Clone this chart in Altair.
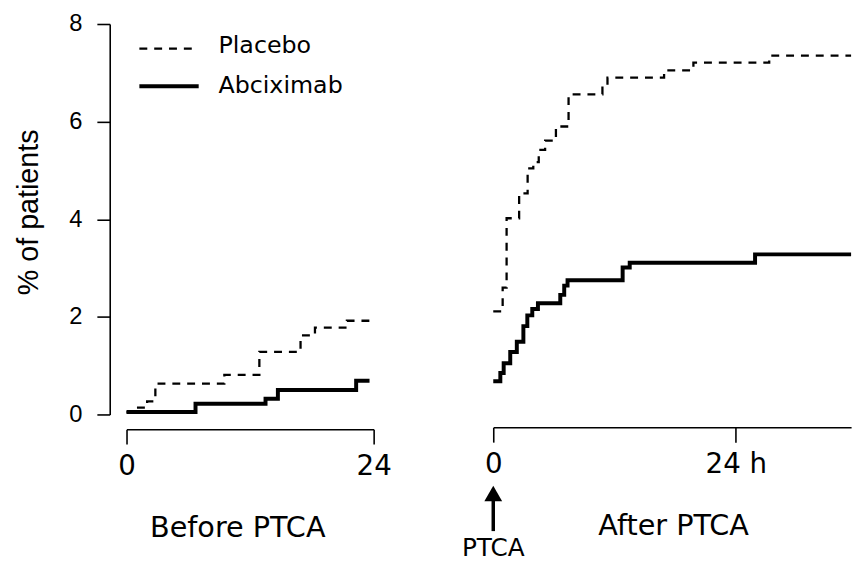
import altair as alt
import pandas as pd

# ---- data (hours, % of patients) ----
groups = ["Placebo", "Abciximab"]

before_placebo_h = [0, 1.0, 2.0, 2.8, 9.5, 12.9, 16.9, 18.3, 21.4, 23.6]
before_placebo_pct = [0.05, 0.14, 0.27, 0.63, 0.81, 1.28, 1.62, 1.78, 1.92, 1.92]
before_abcix_h = [0, 6.7, 13.5, 14.7, 22.3, 23.6]
before_abcix_pct = [0.05, 0.22, 0.32, 0.50, 0.69, 0.69]

after_placebo_h = [0, 0.93, 1.32, 2.56, 3.4, 3.96, 4.5, 5.13, 6.2, 7.45, 10.8, 11.3, 16.9, 19.8, 27.3, 35.4]
after_placebo_pct = [2.11, 2.60, 4.02, 4.53, 5.04, 5.17, 5.42, 5.61, 5.90, 6.56, 6.72, 6.90, 7.05, 7.21, 7.35, 7.35]
after_abcix_h = [0, 0.7, 1.03, 1.68, 2.33, 2.98, 3.37, 3.86, 4.42, 6.63, 7.02, 7.35, 12.8, 13.5, 25.9, 35.4]
after_abcix_pct = [0.68, 0.85, 1.05, 1.28, 1.49, 1.81, 2.03, 2.16, 2.28, 2.45, 2.64, 2.75, 3.01, 3.11, 3.28, 3.28]

y_ticks = [0, 2, 4, 6, 8]
before_ticks = [0, 24]
after_ticks = [0, 24]
before_title = "Before PTCA"
after_title = "After PTCA"
y_title = "% of patients"
arrow_label = "PTCA"


def frame(h_p, v_p, h_a, v_a):
    return pd.DataFrame({
        "hours": h_p + h_a,
        "pct": v_p + v_a,
        "group": [groups[0]] * len(h_p) + [groups[1]] * len(h_a),
    })


before_df = frame(before_placebo_h, before_placebo_pct, before_abcix_h, before_abcix_pct)
after_df = frame(after_placebo_h, after_placebo_pct, after_abcix_h, after_abcix_pct)

TXT = "DejaVu Sans"
NUM = "Liberation Sans"

y_scale = alt.Scale(domain=[0, 8], nice=False)
y_axis = alt.Axis(values=y_ticks, offset=17, tickSize=13, labelPadding=15,
                  labelFont=NUM, labelFontSize=24, labelColor="black",
                  title=y_title, titleFont=NUM, titleFontSize=29, titleFontWeight="normal",
                  titleColor="black", titlePadding=26, titleY=190,
                  domainColor="black", tickColor="black", domainWidth=1.6, tickWidth=1.6,
                  grid=False)


def x_axis(values, title, offset, title_x, label_expr=None):
    kw = dict(values=values, offset=offset, tickSize=15, labelPadding=9,
              labelFont=TXT, labelFontSize=28, labelColor="black",
              title=title, titleFont=TXT, titleFontSize=29, titleFontWeight="normal",
              titleColor="black", titlePadding=33, titleX=title_x,
              domainColor="black", tickColor="black", domainWidth=1.6, tickWidth=1.6,
              grid=False, labelFlush=False)
    if label_expr:
        kw["labelExpr"] = label_expr
    return alt.Axis(**kw)


def curves(df, xscale, xaxis, yaxis):
    base = alt.Chart(df)
    plac = base.transform_filter(alt.datum.group == groups[0]).mark_line(
        interpolate="step-after", color="black", strokeWidth=2.3, strokeDash=[8, 7]
    ).encode(x=alt.X("hours:Q", scale=xscale, axis=xaxis),
             y=alt.Y("pct:Q", scale=y_scale, axis=yaxis))
    abc = base.transform_filter(alt.datum.group == groups[1]).mark_line(
        interpolate="step-after", color="black", strokeWidth=4
    ).encode(x=alt.X("hours:Q", scale=xscale, axis=xaxis),
             y=alt.Y("pct:Q", scale=y_scale, axis=yaxis))
    return plac, abc


# ---- left panel ----
bx_scale = alt.Scale(domain=[0, 24], nice=False)
bx_axis = x_axis(before_ticks, before_title, 15, 112)
lp, la = curves(before_df, bx_scale, bx_axis, y_axis)

leg_df = pd.DataFrame({"group": groups})
leg_dash = alt.Chart(leg_df).transform_filter(alt.datum.group == groups[0]).mark_rule(
    color="black", strokeWidth=2.3, strokeDash=[8, 7]
).encode(x=alt.value(13), x2=alt.value(73), y=alt.value(25))
leg_solid = alt.Chart(leg_df).transform_filter(alt.datum.group == groups[1]).mark_rule(
    color="black", strokeWidth=4
).encode(x=alt.value(13), x2=alt.value(73), y=alt.value(63))
leg_t1 = alt.Chart(leg_df).transform_filter(alt.datum.group == groups[0]).mark_text(
    align="left", baseline="middle", font=TXT, fontSize=24, color="black"
).encode(x=alt.value(93), y=alt.value(22), text="group:N")
leg_t2 = alt.Chart(leg_df).transform_filter(alt.datum.group == groups[1]).mark_text(
    align="left", baseline="middle", font=TXT, fontSize=24, color="black"
).encode(x=alt.value(93), y=alt.value(63), text="group:N")

left = alt.layer(lp, la, leg_dash, leg_solid, leg_t1, leg_t2).properties(width=250, height=395)

# ---- right panel ----
ax_scale = alt.Scale(domain=[0, 35.4], nice=False)
ax_axis = x_axis(after_ticks, after_title, 13, 182,
                 label_expr="datum.value == 24 ? '24 h' : datum.label")
rp, ra = curves(after_df, ax_scale, ax_axis, None)

arrow_df = pd.DataFrame({"hours": [0], "label": [arrow_label]})
shaft = alt.Chart(arrow_df).mark_rule(color="black", strokeWidth=3.5).encode(
    x=alt.X("hours:Q", scale=ax_scale, axis=ax_axis), y=alt.value(478), y2=alt.value(513))
head = alt.Chart(arrow_df).mark_point(shape="triangle-up", filled=True, size=324,
                                      color="black", opacity=1).encode(
    x=alt.X("hours:Q", scale=ax_scale, axis=ax_axis), y=alt.value(475))
ptca = alt.Chart(arrow_df).mark_text(font=TXT, fontSize=25, color="black",
                                     baseline="middle", align="center").encode(
    x=alt.X("hours:Q", scale=ax_scale, axis=ax_axis), y=alt.value(530), text="label:N")

right = alt.layer(rp, ra, shaft, head, ptca).properties(width=362, height=395)

chart = alt.hconcat(left, right, spacing=121, bounds="flush",
                    padding={"left": 14, "top": 9, "right": 0, "bottom": 0},
                    background="white"
                    ).configure_view(strokeWidth=0, stroke="transparent")

chart.save("out.html", embed_options={"renderer": "svg", "actions": False})
